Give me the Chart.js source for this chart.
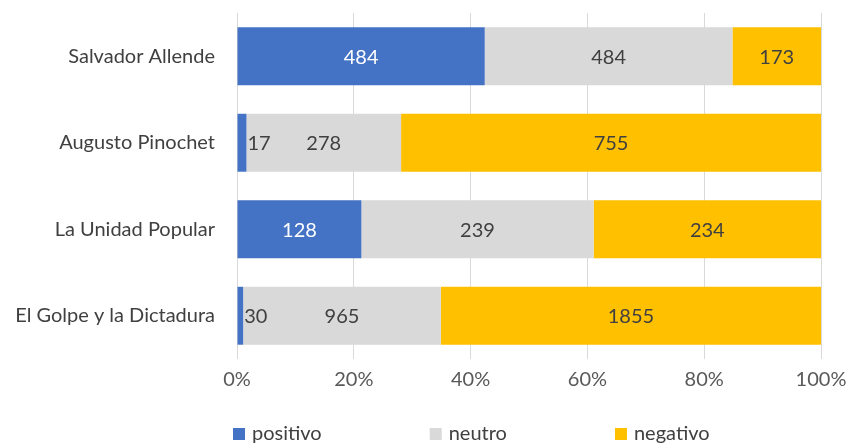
<!DOCTYPE html>
<html>
<head>
<meta charset="utf-8">
<script src="https://cdn.jsdelivr.net/npm/chart.js@4"></script>
<style>
  body { margin: 0; background: #fff; }
  #chart { display: block; }
</style>
</head>
<body>
<canvas id="chart" width="848" height="443"></canvas>
<script>
// ---- data ----
const categories = ["Salvador Allende", "Augusto Pinochet", "La Unidad Popular", "El Golpe y la Dictadura"];
const positivo = [484, 17, 128, 30];
const neutro = [484, 278, 239, 965];
const negativo = [173, 755, 234, 1855];
const seriesNames = ["positivo", "neutro", "negativo"];
const xTicks = [0, 20, 40, 60, 80, 100];

const FONT = "Lato, 'Open Sans', sans-serif";
const counts = [positivo, neutro, negativo];
const colors = ["#4472C4", "#D9D9D9", "#FFC000"];
const labelColors = ["#FFFFFF", "#404040", "#404040"];

// each bar is shown as a share of its row total (100% stacked)
const totals = categories.map((_, i) => positivo[i] + neutro[i] + negativo[i]);
const share = arr => arr.map((v, i) => v / totals[i] * 100);

// raw counts written on the segments; too-narrow segments get the text just past their end
const countLabels = {
    id: "countLabels",
    afterDatasetsDraw(chart) {
        const ctx = chart.ctx;
        ctx.save();
        ctx.font = "20px " + FONT;
        ctx.textBaseline = "middle";
        chart.data.datasets.forEach((ds, di) => {
            const meta = chart.getDatasetMeta(di);
            meta.data.forEach((bar, i) => {
                const text = String(counts[di][i]);
                const w = ctx.measureText(text).width;
                const left = Math.min(bar.x, bar.base);
                const right = Math.max(bar.x, bar.base);
                if (w + 4 > right - left) {
                    ctx.fillStyle = "#404040";
                    ctx.textAlign = "left";
                    ctx.fillText(text, right + 1, bar.y + 1);
                } else {
                    ctx.fillStyle = labelColors[di];
                    ctx.textAlign = "center";
                    ctx.fillText(text, (left + right) / 2, bar.y + 1);
                }
            });
        });
        ctx.restore();
    }
};

// one-row legend under the axis, entries separated by a wide fixed gap
const legendRow = {
    id: "legendRow",
    afterDraw(chart) {
        const ctx = chart.ctx;
        const y = 434;
        let x = 233;
        ctx.save();
        ctx.font = "20px " + FONT;
        ctx.textBaseline = "middle";
        ctx.textAlign = "left";
        chart.data.datasets.forEach(ds => {
            ctx.fillStyle = ds.backgroundColor;
            ctx.fillRect(x, y - 6, 12, 12);
            ctx.fillStyle = "#404040";
            ctx.fillText(ds.label, x + 19, y);
            x += 19 + ctx.measureText(ds.label).width + 108;
        });
        ctx.restore();
    }
};

const datasets = counts.map((arr, di) => ({
    label: seriesNames[di],
    data: share(arr),
    backgroundColor: colors[di],
    borderWidth: 0,
    barPercentage: 0.67,
    categoryPercentage: 1.0
}));

new Chart(document.getElementById("chart"), {
    type: "bar",
    data: { labels: categories, datasets: datasets },
    plugins: [countLabels, legendRow],
    options: {
        indexAxis: "y",
        responsive: false,
        animation: false,
        layout: { padding: { top: 13, right: 27, bottom: 34, left: 0 } },
        scales: {
            x: {
                stacked: true,
                min: 0,
                max: 100,
                afterBuildTicks: scale => {
                    scale.ticks = xTicks.map(v => ({ value: v }));
                },
                afterFit: scale => {
                    scale.height = 50;
                    scale.paddingLeft = 0;
                    scale.paddingRight = 0;
                },
                grid: { color: "#D9D9D9", drawTicks: false },
                border: { display: false },
                ticks: {
                    padding: 9,
                    maxRotation: 0,
                    color: "#595959",
                    font: { family: FONT, size: 20 },
                    callback: v => v + "%"
                }
            },
            y: {
                stacked: true,
                afterFit: scale => {
                    scale.width = 237;
                    scale.paddingTop = 0;
                    scale.paddingBottom = 0;
                },
                grid: { display: false, drawTicks: false },
                border: { display: false },
                ticks: {
                    padding: 22,
                    color: "#404040",
                    font: { family: FONT, size: 20 }
                }
            }
        },
        plugins: {
            legend: { display: false },
            tooltip: { enabled: false }
        }
    }
});
</script>
</body>
</html>
